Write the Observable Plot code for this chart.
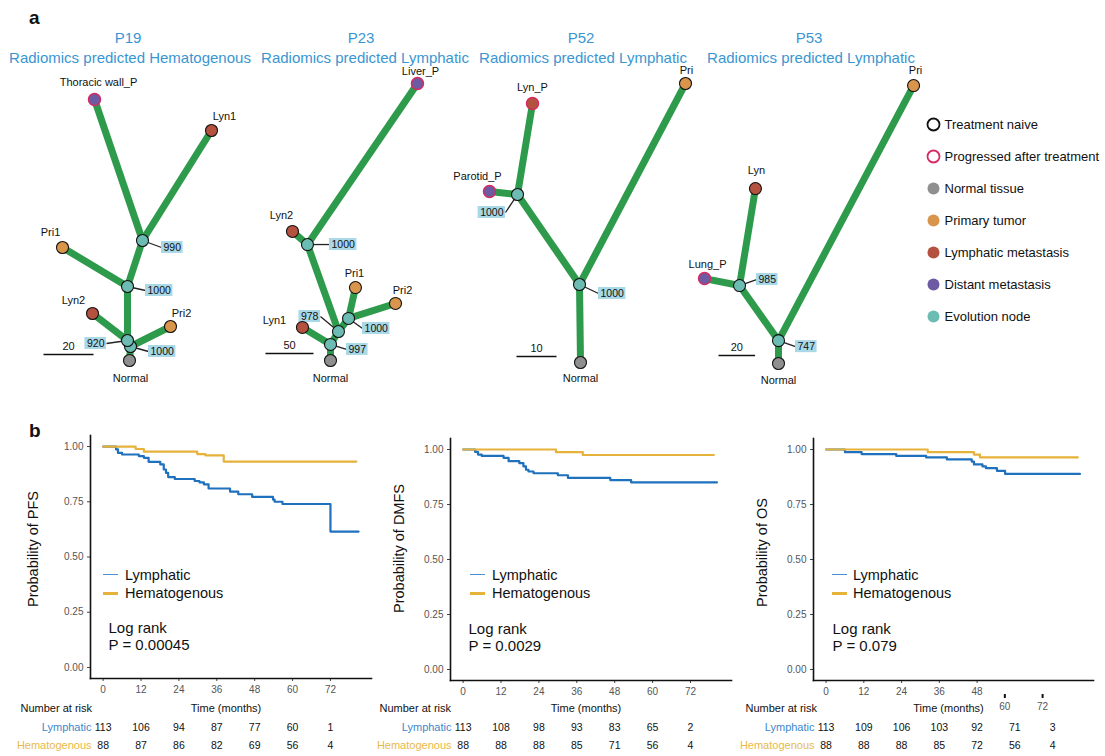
<!DOCTYPE html>
<html>
<head>
<meta charset="utf-8">
<script src="https://cdn.jsdelivr.net/npm/d3@7"></script>
<script src="https://cdn.jsdelivr.net/npm/@observablehq/plot@0.6"></script>
<style>
  body { margin: 0; background: #fff; font-family: "Liberation Sans", Arial, Helvetica, sans-serif; }
  #page { position: relative; width: 1105px; height: 756px; overflow: hidden; background: #fff; }
  .ttl { position: absolute; color: #3a96d2; font-size: 15px; white-space: nowrap; line-height: 1; transform: translate(-50%, -50%); }
  .tag { position: absolute; font-weight: bold; font-size: 19px; line-height: 1; color: #111; }
  .lg { position: absolute; font-size: 14.5px; line-height: 1; color: #111; white-space: nowrap; }
  .sw { position: absolute; height: 0; }
</style>
</head>
<body>
<div id="page"></div>
<script>
// ---------------- Panel a: phylogenetic trees ----------------
// Node coordinates are in mutation units, with the Normal sample at the origin.
const p19Nodes = [
  {id: "Normal", label: "Normal", type: "normal", x: 0, y: 0},
  {id: "D", type: "evo", x: 0.4, y: 5.6},
  {id: "C", type: "evo", x: -0.8, y: 8},
  {id: "Pri2", label: "Pri2", type: "primary", x: 16.4, y: 13.6},
  {id: "Lyn2", label: "Lyn2", type: "lymph", x: -14.8, y: 18.8},
  {id: "B", type: "evo", x: -0.8, y: 29.6},
  {id: "Pri1", label: "Pri1", type: "primary", x: -26.8, y: 45.2},
  {id: "A", type: "evo", x: 5.2, y: 48},
  {id: "Lyn1", label: "Lyn1", type: "lymph", x: 32.8, y: 92},
  {id: "Thoracic wall_P", label: "Thoracic wall_P", type: "distant", progressed: true, x: -14, y: 104.4}
];
const p19Edges = [["Normal", "D"], ["D", "C"], ["D", "Pri2"], ["C", "Lyn2"], ["C", "B"], ["B", "Pri1"], ["B", "A"], ["A", "Lyn1"], ["A", "Thoracic wall_P"]];
const p19Boot = [{node: "A", value: 990}, {node: "B", value: 1000}, {node: "C", value: 920}, {node: "D", value: 1000}];

const p23Nodes = [
  {id: "Normal", label: "Normal", type: "normal", x: 0, y: 0},
  {id: "D", type: "evo", x: 0, y: 16.7},
  {id: "C", type: "evo", x: 8.3, y: 30.2},
  {id: "Lyn1", label: "Lyn1", type: "lymph", x: -29.2, y: 34.4},
  {id: "B", type: "evo", x: 18.8, y: 43.8},
  {id: "Pri1", label: "Pri1", type: "primary", x: 26, y: 76},
  {id: "Pri2", label: "Pri2", type: "primary", x: 67.7, y: 59.4},
  {id: "A", type: "evo", x: -24, y: 120.8},
  {id: "Lyn2", label: "Lyn2", type: "lymph", x: -39.6, y: 134.4},
  {id: "Liver_P", label: "Liver_P", type: "distant", progressed: true, x: 90.6, y: 288.5}
];
const p23Edges = [["Normal", "D"], ["D", "Lyn1"], ["D", "C"], ["C", "B"], ["B", "Pri1"], ["B", "Pri2"], ["C", "A"], ["A", "Lyn2"], ["A", "Liver_P"]];
const p23Boot = [{node: "A", value: 1000}, {node: "B", value: 1000}, {node: "C", value: 978}, {node: "D", value: 997}];

const p52Nodes = [
  {id: "Normal", label: "Normal", type: "normal", x: 0, y: 0},
  {id: "B", type: "evo", x: -0.25, y: 19.5},
  {id: "A", type: "evo", x: -15.75, y: 42},
  {id: "Parotid_P", label: "Parotid_P", type: "distant", progressed: true, x: -22.75, y: 42.75},
  {id: "Lyn_P", label: "Lyn_P", type: "lymph", progressed: true, x: -12, y: 64.75},
  {id: "Pri", label: "Pri", type: "primary", x: 26.25, y: 69.75}
];
const p52Edges = [["Normal", "B"], ["B", "A"], ["B", "Pri"], ["A", "Parotid_P"], ["A", "Lyn_P"]];
const p52Boot = [{node: "A", value: 1000}, {node: "B", value: 1000}];

const p53Nodes = [
  {id: "Normal", label: "Normal", type: "normal", x: 0, y: 0},
  {id: "B", type: "evo", x: 0, y: 12.5},
  {id: "A", type: "evo", x: -21.3, y: 42.6},
  {id: "Lung_P", label: "Lung_P", type: "distant", progressed: true, x: -40.4, y: 46.4},
  {id: "Lyn", label: "Lyn", type: "lymph", x: -12.6, y: 95.6},
  {id: "Pri", label: "Pri", type: "primary", x: 73.8, y: 151.9}
];
const p53Edges = [["Normal", "B"], ["B", "A"], ["B", "Pri"], ["A", "Lung_P"], ["A", "Lyn"]];
const p53Boot = [{node: "A", value: 985}, {node: "B", value: 747}];

const treeTitles = ["P19", "P23", "P52", "P53"];
const treeSubtitles = ["Radiomics predicted Hematogenous", "Radiomics predicted Lymphatic", "Radiomics predicted Lymphatic", "Radiomics predicted Lymphatic"];
const scaleBarLengths = [20, 50, 10, 20];

const legendItems = ["Treatment naive", "Progressed after treatment", "Normal tissue", "Primary tumor", "Lymphatic metastasis", "Distant metastasis", "Evolution node"];

// ---------------- Panel b: Kaplan-Meier curves [months, survival] ----------------
const pfsLymphatic = [[0, 1], [4.1, 0.987], [4.7, 0.971], [6.0, 0.964], [11.3, 0.957], [12.9, 0.949], [14.4, 0.931], [18.1, 0.919], [19.2, 0.896], [19.9, 0.881], [20.6, 0.862], [22.7, 0.853], [29.0, 0.844], [30.5, 0.838], [31.9, 0.829], [33.4, 0.810], [40.2, 0.796], [42.8, 0.784], [47.2, 0.772], [53.8, 0.760], [54.3, 0.750], [56.8, 0.740], [72.0, 0.615], [80.9, 0.615]];
const pfsHematogenous = [[0, 1], [10.3, 0.989], [12.9, 0.977], [29.8, 0.966], [32.4, 0.960], [38.2, 0.932], [80.2, 0.932]];
const dmfsLymphatic = [[0, 1], [3.8, 0.989], [4.7, 0.977], [5.9, 0.971], [12.8, 0.962], [14.4, 0.947], [17.8, 0.938], [19.1, 0.923], [19.9, 0.908], [20.7, 0.900], [22.3, 0.892], [30.0, 0.883], [33.2, 0.871], [46.6, 0.861], [53.2, 0.851], [80.4, 0.851]];
const dmfsHematogenous = [[0, 1], [29.4, 0.988], [37.9, 0.975], [79.4, 0.975]];
const osLymphatic = [[0, 1], [6.0, 0.988], [11.3, 0.979], [22.3, 0.971], [31.8, 0.964], [38.4, 0.955], [46.3, 0.945], [47.0, 0.932], [49.7, 0.923], [50.8, 0.915], [54.3, 0.903], [56.9, 0.889], [80.7, 0.889]];
const osHematogenous = [[0, 1], [32.3, 0.988], [47.0, 0.977], [48.9, 0.964], [80.0, 0.964]];

const groups = ["Lymphatic", "Hematogenous"];
const riskTimes = [0, 12, 24, 36, 48, 60, 72];
const pfsRiskLymphatic = [113, 106, 94, 87, 77, 60, 1];
const pfsRiskHematogenous = [88, 87, 86, 82, 69, 56, 4];
const dmfsRiskLymphatic = [113, 108, 98, 93, 83, 65, 2];
const dmfsRiskHematogenous = [88, 88, 88, 85, 71, 56, 4];
const osRiskLymphatic = [113, 109, 106, 103, 92, 71, 3];
const osRiskHematogenous = [88, 88, 88, 85, 72, 56, 4];
const pValues = ["0.00045", "0.0029", "0.079"];
const yLabels = ["Probability of PFS", "Probability of DMFS", "Probability of OS"];

// ---------------- styling ----------------
const FONT = '"Liberation Sans", Arial, Helvetica, sans-serif';
const GREEN = "#2e9a4b";
const CRIMSON = "#d52b62";
const BOXFILL = "#a9d8e7";
const typeFill = {normal: "#8f8f8f", primary: "#d9954b", lymph: "#b5513f", distant: "#6c5aa2", evo: "#6cbcb3"};
const BLUE = "#1f70bd", GOLD = "#e6b23a";
const BLUE_TXT = "#3d86cc", GOLD_TXT = "#e8b948";

const page = document.getElementById("page");
function place(el, left, top) {
  el.style.position = "absolute";
  el.style.left = left + "px";
  el.style.top = top + "px";
  page.appendChild(el);
}
function div(cls, text, left, top) {
  const d = document.createElement("div");
  d.className = cls;
  d.textContent = text;
  d.style.left = left + "px";
  d.style.top = top + "px";
  page.appendChild(d);
  return d;
}

// ---------------- tree drawing ----------------
// Frame placement on the page, root pixel position, pixels per mutation,
// label offsets (px: right, down) and scale-bar offset from the root.
const treeLayouts = [
  {left: 0, top: 62, width: 250, height: 330, root: [129, 360], k: 2.5,
   labels: {"Thoracic wall_P": [4, -17], "Lyn1": [13, -14], "Pri1": [-12, -15], "Lyn2": [-19, -13], "Pri2": [11, -13], "Normal": [1, 18]},
   boot: {A: [[19, 7], "start"], B: [[18, 4], "start"], C: [[-21, 3], "end"], D: [[18, 5], "start"]},
   bar: [-86, -6], titleX: [128, 130]},
  {left: 250, top: 62, width: 220, height: 330, root: [330, 360], k: 0.96,
   labels: {"Liver_P": [3, -12], "Lyn2": [-11, -16], "Pri1": [-1, -14], "Pri2": [7, -13], "Lyn1": [-28, -7], "Normal": [0, 18]},
   boot: {A: [[22, 0], "start"], B: [[14, 10], "start"], C: [[-18, -15], "end"], D: [[16, 5], "start"]},
   bar: [-65, -7], titleX: [361, 365]},
  {left: 440, top: 62, width: 260, height: 330, root: [580, 362], k: 4,
   labels: {"Lyn_P": [0, -16], "Parotid_P": [-12, -15], "Pri": [1, -13], "Normal": [0, 16]},
   boot: {A: [[-12, 18], "end"], B: [[19, 9], "start"]},
   bar: [-64, -6], titleX: [581, 583]},
  {left: 680, top: 62, width: 240, height: 330, root: [778, 363], k: 1.83,
   labels: {"Pri": [2, -15], "Lyn": [1, -18], "Lung_P": [3, -14], "Normal": [0, 17]},
   boot: {A: [[17, -6], "start"], B: [[17, 6], "start"]},
   bar: [-60, -8], titleX: [809, 811]}
];

function drawTree(nodes, edges, boot, barLen, lay) {
  const k = lay.k, W = lay.width, H = lay.height;
  const rx = lay.root[0] - lay.left, ry = lay.root[1] - lay.top;
  const byId = new Map(nodes.map(d => [d.id, d]));
  const off = (p, [dx, dy]) => ({x: p.x + dx / k, y: p.y - dy / k});
  const links = edges.map(([a, b]) => ({a: byId.get(a), b: byId.get(b)}));
  const boots = boot.map(b => {
    const n = byId.get(b.node);
    const [d, side] = lay.boot[b.node];
    const p = off(n, d);
    const w = (String(b.value).length * 5.85 + 4) / k, h = 12 / k;
    const x1 = side === "start" ? p.x : p.x - w;
    return {n, p, value: b.value, x1, x2: x1 + w, y1: p.y - h / 2, y2: p.y + h / 2};
  });
  const tips = nodes.filter(d => d.label).map(d => ({...off(d, lay.labels[d.id] || [0, -15]), text: d.label}));
  const bar0 = off({x: 0, y: 0}, lay.bar);
  const bar = [{x1: bar0.x, x2: bar0.x + barLen, y: bar0.y, len: barLen}];

  const svg = Plot.plot({
    width: W, height: H, margin: 0,
    style: {fontFamily: FONT, background: "transparent", overflow: "visible"},
    x: {domain: [-rx / k, (W - rx) / k], axis: null},
    y: {domain: [(ry - H) / k, ry / k], axis: null},
    color: {type: "identity"},
    marks: [
      Plot.link(links, {x1: d => d.a.x, y1: d => d.a.y, x2: d => d.b.x, y2: d => d.b.y, stroke: GREEN, strokeWidth: 7}),
      Plot.link(boots, {x1: d => d.n.x, y1: d => d.n.y, x2: d => d.p.x, y2: d => d.p.y, stroke: "#222", strokeWidth: 1.3}),
      Plot.rect(boots, {x1: "x1", x2: "x2", y1: "y1", y2: "y2", fill: BOXFILL}),
      Plot.text(boots, {x: d => (d.x1 + d.x2) / 2, y: d => d.p.y, text: d => String(d.value), fontSize: 10.5, fill: "#111"}),
      Plot.dot(nodes, {x: "x", y: "y", r: 6, fill: d => typeFill[d.type], stroke: d => d.progressed ? CRIMSON : "#111", strokeWidth: d => d.progressed ? 1.5 : 1.1}),
      Plot.text(tips, {x: "x", y: "y", text: "text", fontSize: 11, fill: "#111"}),
      Plot.link(bar, {x1: "x1", x2: "x2", y1: "y", y2: "y", stroke: "#111", strokeWidth: 1.5}),
      Plot.text(bar, {x: d => (d.x1 + d.x2) / 2, y: "y", text: d => String(d.len), dy: -8, fontSize: 11, fill: "#111"})
    ]
  });
  place(svg, lay.left, lay.top);
}

const treeData = [[p19Nodes, p19Edges, p19Boot], [p23Nodes, p23Edges, p23Boot], [p52Nodes, p52Edges, p52Boot], [p53Nodes, p53Edges, p53Boot]];
treeData.forEach(([n, e, b], i) => {
  const lay = treeLayouts[i];
  drawTree(n, e, b, scaleBarLengths[i], lay);
  div("ttl", treeTitles[i], lay.titleX[0], 37);
  div("ttl", treeSubtitles[i], lay.titleX[1], 56.5);
});
div("tag", "a", 29, 8);
div("tag", "b", 29, 421);

// Sample legend for the trees
const legendStyle = {
  "Treatment naive": {fill: "#fff", stroke: "#111", sw: 1.8},
  "Progressed after treatment": {fill: "#fff", stroke: CRIMSON, sw: 1.8},
  "Normal tissue": {fill: typeFill.normal},
  "Primary tumor": {fill: typeFill.primary},
  "Lymphatic metastasis": {fill: typeFill.lymph},
  "Distant metastasis": {fill: typeFill.distant},
  "Evolution node": {fill: typeFill.evo}
};
const legendSvg = Plot.plot({
  width: 185, height: 230, marginTop: 18, marginBottom: 19, marginLeft: 13, marginRight: 0,
  style: {fontFamily: FONT, background: "transparent", overflow: "visible"},
  y: {domain: legendItems, type: "point", padding: 0, axis: null},
  color: {type: "identity"},
  marks: [
    Plot.dot(legendItems, {y: d => d, frameAnchor: "left", r: 6, fill: d => legendStyle[d].fill, stroke: d => legendStyle[d].stroke || "none", strokeWidth: d => legendStyle[d].sw || 0}),
    Plot.text(legendItems, {y: d => d, text: d => d, frameAnchor: "left", textAnchor: "start", dx: 11, fontSize: 13, fill: "#111"})
  ]
});
place(legendSvg, 920, 105);

// ---------------- survival panels ----------------
const kmLayouts = [
  {left: 0, width: 372, ml: 90, mr: 1, mt: 15, mb: 42, ylx: -57, yly: -8, tdy: 30, ndx: -70, pdx: 18, pdy: 185, leg: [103, 125]},
  {left: 370, width: 362, ml: 80, mr: 1, mt: 18, mb: 40, ylx: -51, yly: -11, tdy: 28, ndx: -71, pdx: 18, pdy: 183, leg: [470, 492]},
  {left: 730, width: 375, ml: 83, mr: 12, mt: 18, mb: 40, ylx: -51, yly: -7, tdy: 28, ndx: -68, pdx: 19, pdy: 183, leg: [832, 853]}
];
const kmData = [
  {lymph: pfsLymphatic, hema: pfsHematogenous, riskL: pfsRiskLymphatic, riskH: pfsRiskHematogenous, ticks: riskTimes},
  {lymph: dmfsLymphatic, hema: dmfsHematogenous, riskL: dmfsRiskLymphatic, riskH: dmfsRiskHematogenous, ticks: riskTimes},
  {lymph: osLymphatic, hema: osHematogenous, riskL: osRiskLymphatic, riskH: osRiskHematogenous, ticks: riskTimes.slice(0, 5), shifted: riskTimes.slice(5)}
];

kmData.forEach((cfg, i) => {
  const L = kmLayouts[i];
  const rows = [
    ...cfg.lymph.map(([t, s]) => ({group: "Lymphatic", t, s})),
    ...cfg.hema.map(([t, s]) => ({group: "Hematogenous", t, s}))
  ];
  const axisStyle = {tickSize: 3, tickPadding: 4, fontSize: 10, fill: "#555", stroke: "#444", label: null};
  const xAxes = [Plot.axisX({ticks: cfg.ticks, tickFormat: d => String(d), ...axisStyle})];
  if (cfg.shifted) xAxes.push(Plot.axisX({ticks: cfg.shifted, tickFormat: d => String(d), ...axisStyle, tickSize: 4, strokeWidth: 2, stroke: "#111", dx: -10, dy: 14}));

  const chart = Plot.plot({
    width: L.width, height: 300,
    marginLeft: L.ml, marginRight: L.mr, marginTop: L.mt, marginBottom: L.mb,
    style: {fontFamily: FONT, background: "transparent", overflow: "visible"},
    x: {domain: [-4, 85], label: null},
    y: {domain: [-0.05, 1.05], label: null},
    color: {domain: groups, range: [BLUE, GOLD]},
    marks: [
      Plot.axisY({ticks: [0, 0.25, 0.5, 0.75, 1], tickFormat: d3.format(".2f"), ...axisStyle}),
      ...xAxes,
      Plot.line(rows, {x: "t", y: "s", z: "group", stroke: "group", curve: "step-after", strokeWidth: 2.2}),
      Plot.frame({anchor: "left", stroke: "#111", strokeWidth: 1.6}),
      Plot.frame({anchor: "bottom", stroke: "#111", strokeWidth: 1.6}),
      Plot.text([yLabels[i]], {text: d => d, frameAnchor: "left", textAnchor: "middle", lineAnchor: "middle", rotate: -90, dx: L.ylx, dy: L.yly, fontSize: 14.5, fill: "#111"}),
      Plot.text(["Time (months)"], {text: d => d, frameAnchor: "bottom", textAnchor: "middle", lineAnchor: "middle", dx: -5, dy: L.tdy, fontSize: 11, fill: "#111"}),
      Plot.text(["Number at risk"], {text: d => d, frameAnchor: "bottom-left", textAnchor: "start", lineAnchor: "middle", dx: L.ndx, dy: L.tdy, fontSize: 11, fill: "#111"}),
      Plot.text([`Log rank\nP = ${pValues[i]}`], {text: d => d, frameAnchor: "top-left", textAnchor: "start", lineAnchor: "top", dx: L.pdx, dy: L.pdy, fontSize: 15, lineHeight: 1.15, fill: "#111"})
    ]
  });
  place(chart, L.left, 420);

  // Number-at-risk table aligned on the same time scale
  const risk = [
    ...cfg.riskL.map((n, j) => ({group: "Lymphatic", t: riskTimes[j], n})),
    ...cfg.riskH.map((n, j) => ({group: "Hematogenous", t: riskTimes[j], n}))
  ];
  const table = Plot.plot({
    width: L.width, height: 36,
    marginLeft: L.ml, marginRight: L.mr, marginTop: 0, marginBottom: 0,
    style: {fontFamily: FONT, background: "transparent", overflow: "visible"},
    x: {domain: [-4, 85], axis: null},
    y: {domain: groups, type: "band", padding: 0, axis: null},
    color: {type: "identity"},
    marks: [
      Plot.text(risk, {x: "t", y: "group", text: d => String(d.n), fontSize: 10.5, fill: "#111"}),
      Plot.text(groups, {y: d => d, text: d => d, frameAnchor: "left", textAnchor: "end", lineAnchor: "middle", dx: 1, fontSize: 11, fill: d => d === "Lymphatic" ? BLUE_TXT : GOLD_TXT})
    ]
  });
  place(table, L.left, 718);

  // In-panel legend
  const [sx, tx] = L.leg;
  const s1 = document.createElement("div"); s1.className = "sw";
  s1.style.cssText = `left:${sx}px;top:${574}px;width:15px;border-top:1.5px solid #4a90d0;`;
  page.appendChild(s1);
  const s2 = document.createElement("div"); s2.className = "sw";
  s2.style.cssText = `left:${sx}px;top:${591.5}px;width:15px;border-top:3px solid ${GOLD};`;
  page.appendChild(s2);
  div("lg", "Lymphatic", tx, 568);
  div("lg", "Hematogenous", tx, 586);
});
</script>
</body>
</html>
